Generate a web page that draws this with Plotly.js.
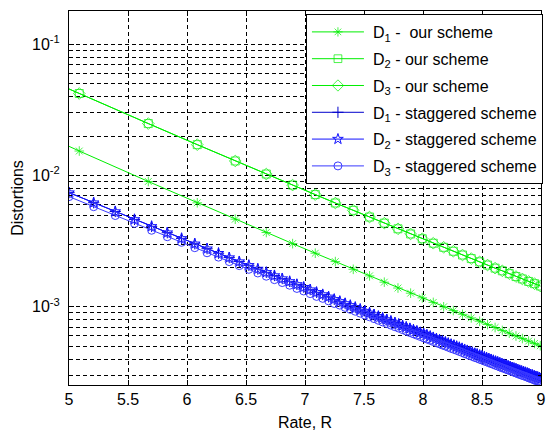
<!DOCTYPE html>
<html>
<head>
<meta charset="utf-8">
<script src="https://cdn.plot.ly/plotly-3.0.1.min.js"></script>
<style>html,body{margin:0;padding:0;background:#fff;}#chart{width:550px;height:431px;}</style>
</head>
<body>
<div id="chart"></div>
<script>
// ---- Data ----
// "our scheme" rates (first entry is the line start, no marker)
const rOurs = [5.0, 5.087, 5.672, 6.087, 6.409, 6.672, 6.895, 7.087, 7.257, 7.409, 7.547, 7.672, 7.788, 7.895, 7.994,
  8.087, 8.175, 8.257, 8.335, 8.409, 8.480, 8.547, 8.611, 8.672, 8.731, 8.788, 8.842, 8.895, 8.945, 8.994];
const d1Ours = [0.0167, 0.01538, 0.00901, 0.00620, 0.00465, 0.00368, 0.00303, 0.00256, 0.00221, 0.00193, 0.00172,
  0.00154, 0.00139, 0.00127, 0.00117, 0.00108, 0.00100, 0.000936, 0.000876, 0.000823, 0.000776, 0.000733, 0.000695,
  0.000660, 0.000629, 0.000599, 0.000573, 0.000548, 0.000526, 0.000505];
const d2Ours = [0.0457, 0.0422, 0.0249, 0.0172, 0.01292, 0.01027, 0.00846, 0.00716, 0.00618, 0.00543, 0.00483,
  0.00434, 0.00393, 0.00359, 0.00330, 0.00305, 0.00284, 0.00265, 0.00248, 0.00233, 0.00220, 0.00208, 0.00197,
  0.00188, 0.00179, 0.00170, 0.00163, 0.00156, 0.00150, 0.00144];
const d3Ours = [0.0457, 0.0422, 0.0249, 0.0172, 0.01292, 0.01027, 0.00846, 0.00716, 0.00618, 0.00543, 0.00483,
  0.00434, 0.00393, 0.00359, 0.00330, 0.00305, 0.00284, 0.00265, 0.00248, 0.00233, 0.00220, 0.00208, 0.00197,
  0.00188, 0.00179, 0.00170, 0.00163, 0.00156, 0.00150, 0.00144];

// "staggered scheme" rates
const rStag = [5.000, 5.209, 5.392, 5.555, 5.700, 5.833, 5.954, 6.066, 6.170, 6.267,
  6.358, 6.443, 6.524, 6.600, 6.672, 6.741, 6.807, 6.870, 6.931, 6.989,
  7.044, 7.098, 7.150, 7.200, 7.248, 7.295, 7.340, 7.384, 7.426, 7.468,
  7.508, 7.547, 7.585, 7.622, 7.658, 7.693, 7.728, 7.762, 7.794, 7.827,
  7.858, 7.889, 7.919, 7.948, 7.977, 8.006, 8.033, 8.061, 8.087, 8.114,
  8.140, 8.165, 8.190, 8.214, 8.238, 8.262, 8.285, 8.308, 8.331, 8.353,
  8.375, 8.397, 8.418, 8.439, 8.459, 8.480, 8.500, 8.520, 8.539, 8.558,
  8.577, 8.596, 8.615, 8.633, 8.651, 8.669, 8.687, 8.704, 8.721, 8.738,
  8.755, 8.771, 8.788, 8.804, 8.820, 8.836, 8.852, 8.867, 8.883, 8.898,
  8.913, 8.928, 8.943, 8.957, 8.972, 8.986, 9.000];
const d1Stag = [7.41e-3, 6.21e-3, 5.32e-3, 4.63e-3, 4.10e-3, 3.67e-3, 3.32e-3, 3.02e-3, 2.77e-3, 2.56e-3,
  2.37e-3, 2.21e-3, 2.07e-3, 1.94e-3, 1.83e-3, 1.73e-3, 1.64e-3, 1.56e-3, 1.48e-3, 1.41e-3,
  1.35e-3, 1.29e-3, 1.24e-3, 1.19e-3, 1.14e-3, 1.10e-3, 1.06e-3, 1.025e-3, 9.91e-4, 9.58e-4,
  9.27e-4, 8.99e-4, 8.71e-4, 8.46e-4, 8.22e-4, 7.99e-4, 7.77e-4, 7.56e-4, 7.37e-4, 7.18e-4,
  7.00e-4, 6.83e-4, 6.67e-4, 6.52e-4, 6.37e-4, 6.22e-4, 6.09e-4, 5.96e-4, 5.83e-4, 5.71e-4,
  5.59e-4, 5.48e-4, 5.38e-4, 5.27e-4, 5.17e-4, 5.08e-4, 4.99e-4, 4.90e-4, 4.81e-4, 4.72e-4,
  4.64e-4, 4.56e-4, 4.49e-4, 4.41e-4, 4.35e-4, 4.27e-4, 4.21e-4, 4.14e-4, 4.08e-4, 4.02e-4,
  3.96e-4, 3.90e-4, 3.84e-4, 3.79e-4, 3.73e-4, 3.68e-4, 3.63e-4, 3.58e-4, 3.54e-4, 3.49e-4,
  3.44e-4, 3.40e-4, 3.36e-4, 3.31e-4, 3.27e-4, 3.23e-4, 3.19e-4, 3.16e-4, 3.12e-4, 3.08e-4,
  3.04e-4, 3.01e-4, 2.97e-4, 2.94e-4, 2.91e-4, 2.88e-4, 2.84e-4];
const d2Stag = d1Stag; // D2 staggered overlaps D1 staggered in the figure
const d3Stag = [6.91e-3, 5.79e-3, 4.96e-3, 4.32e-3, 3.83e-3, 3.42e-3, 3.10e-3, 2.82e-3, 2.58e-3, 2.39e-3,
  2.21e-3, 2.06e-3, 1.93e-3, 1.81e-3, 1.71e-3, 1.61e-3, 1.53e-3, 1.46e-3, 1.38e-3, 1.32e-3,
  1.26e-3, 1.20e-3, 1.16e-3, 1.11e-3, 1.06e-3, 1.03e-3, 9.90e-4, 9.56e-4, 9.25e-4, 8.94e-4,
  8.65e-4, 8.39e-4, 8.13e-4, 7.89e-4, 7.67e-4, 7.45e-4, 7.25e-4, 7.05e-4, 6.88e-4, 6.70e-4,
  6.53e-4, 6.37e-4, 6.22e-4, 6.08e-4, 5.94e-4, 5.80e-4, 5.68e-4, 5.56e-4, 5.44e-4, 5.33e-4,
  5.22e-4, 5.11e-4, 5.02e-4, 4.92e-4, 4.82e-4, 4.74e-4, 4.66e-4, 4.57e-4, 4.49e-4, 4.40e-4,
  4.33e-4, 4.25e-4, 4.19e-4, 4.11e-4, 4.06e-4, 3.98e-4, 3.93e-4, 3.86e-4, 3.81e-4, 3.75e-4,
  3.69e-4, 3.64e-4, 3.58e-4, 3.54e-4, 3.48e-4, 3.43e-4, 3.39e-4, 3.34e-4, 3.30e-4, 3.26e-4,
  3.21e-4, 3.17e-4, 3.13e-4, 3.09e-4, 3.05e-4, 3.01e-4, 2.98e-4, 2.95e-4, 2.91e-4, 2.87e-4,
  2.84e-4, 2.81e-4, 2.77e-4, 2.74e-4, 2.72e-4, 2.69e-4, 2.65e-4];

const seriesNames = ['D<sub>1</sub> -  our scheme', 'D<sub>2</sub> - our scheme', 'D<sub>3</sub> - our scheme',
  'D<sub>1</sub> - staggered scheme', 'D<sub>2</sub> - staggered scheme', 'D<sub>3</sub> - staggered scheme'];
const yTickVals = [1e-3, 1e-2, 1e-1];
const yTickText = ['10<sup>-3</sup>', '10<sup>-2</sup>', '10<sup>-1</sup>'];
const yMinorVals = [3e-4, 4e-4, 5e-4, 6e-4, 7e-4, 8e-4, 9e-4, 2e-3, 3e-3, 4e-3, 5e-3, 6e-3, 7e-3, 8e-3, 9e-3,
  2e-2, 3e-2, 4e-2, 5e-2, 6e-2, 7e-2, 8e-2, 9e-2];

// ---- Styling ----
const GREEN = '#00ee00';
const FONT = 'Liberation Sans, Arial, Helvetica, sans-serif';
const FS = 16;
const oursSizes = (s) => rOurs.map((_, i) => (i === 0 ? 0 : s));

function tr(x, y, name, color, symbol, size, group) {
  return {
    x: x, y: y, name: name, type: 'scatter', mode: 'lines+markers',
    legendgroup: group,
    line: {color: color, width: 1},
    marker: {symbol: symbol, size: size, color: color, line: {color: color, width: 1}}
  };
}

const traces = [
  tr(rOurs, d1Ours, seriesNames[0], GREEN, 'asterisk-open', oursSizes(8), 'a'),
  tr(rOurs, d2Ours, seriesNames[1], GREEN, 'square-open', oursSizes(8), 'b'),
  tr(rOurs, d3Ours, seriesNames[2], GREEN, 'diamond-open', oursSizes(9), 'c'),
  tr(rStag, d1Stag, seriesNames[3], '#0000cc', 'cross-thin-open', 8, 'd'),
  tr(rStag, d2Stag, seriesNames[4], '#1010ff', 'star-open', 8, 'e'),
  tr(rStag, d3Stag, seriesNames[5], '#3a3aff', 'circle-open', 8, 'f')
];

const gridDash = '4px,3px';
const layout = {
  width: 550, height: 431,
  margin: {l: 69, r: 7, t: 11, b: 46, pad: 0},
  paper_bgcolor: '#fff', plot_bgcolor: '#fff',
  font: {family: FONT, size: FS, color: '#000'},
  showlegend: true,
  xaxis: {
    range: [5, 9], dtick: 0.5, tick0: 5,
    showline: true, linecolor: '#000', linewidth: 1, mirror: 'ticks',
    ticks: 'inside', ticklen: 5, tickcolor: '#000',
    showgrid: true, gridcolor: '#000', gridwidth: 1, griddash: gridDash,
    zeroline: false, ticklabelstandoff: 0,
    tickfont: {family: FONT, size: FS, color: '#000'},
    title: {text: 'Rate, R', font: {family: FONT, size: FS, color: '#000'}, standoff: 9}
  },
  yaxis: {
    type: 'log', range: [-3.596, -0.746],
    tickmode: 'array', tickvals: yTickVals, ticktext: yTickText,
    showline: true, linecolor: '#000', linewidth: 1, mirror: 'ticks',
    ticks: 'inside', ticklen: 5, tickcolor: '#000',
    showgrid: true, gridcolor: '#000', gridwidth: 1, griddash: gridDash,
    minor: {tickmode: 'array', tickvals: yMinorVals, ticks: 'inside', ticklen: 3, tickcolor: '#000',
      showgrid: true, gridcolor: '#000', gridwidth: 1, griddash: gridDash},
    zeroline: false, ticklabelstandoff: 5,
    tickfont: {family: FONT, size: FS, color: '#000'},
    title: {text: 'Distortions', font: {family: FONT, size: FS, color: '#000'}, standoff: 4}
  },
  legend: {
    x: 0.502, y: 0.992, xanchor: 'left', yanchor: 'top',
    bgcolor: '#fff', bordercolor: '#000', borderwidth: 1,
    font: {family: FONT, size: FS, color: '#000'},
    tracegroupgap: 3, itemwidth: 56, traceorder: 'grouped'
  }
};

Plotly.newPlot('chart', traces, layout, {displayModeBar: false, staticPlot: true}).then(function (gd) {
  // lengthen legend line samples to match the reference (marker centred on the line)
  gd.querySelectorAll('.legend .traces').forEach(function (g) {
    g.querySelectorAll('.legendlines path').forEach(function (p) { p.setAttribute('d', 'M5,0h52'); });
    g.querySelectorAll('.legendsymbols .legendpoints path').forEach(function (p) {
      p.setAttribute('transform', 'translate(31,0)');
    });
  });
});
</script>
</body>
</html>
